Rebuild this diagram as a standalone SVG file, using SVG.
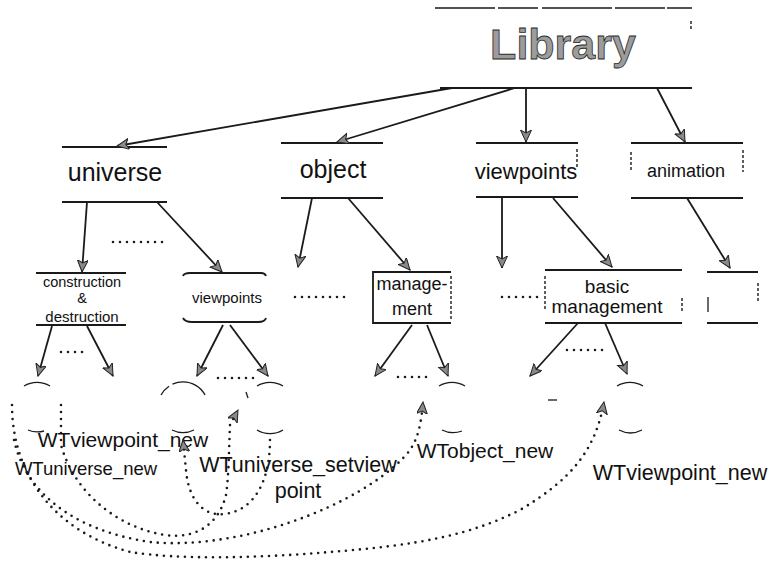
<svg xmlns="http://www.w3.org/2000/svg" width="769" height="563" viewBox="0 0 769 563">
  <style>
    .edge { fill: none; stroke: #1a1a1a; stroke-width: 1.8; }
    .thin { fill: none; stroke: #1a1a1a; stroke-width: 1.3; }
    .dash { fill: none; stroke: #1a1a1a; stroke-width: 1.4; stroke-dasharray: 3 2; }
    .dots { fill: none; stroke: #1a1a1a; stroke-width: 2.6; stroke-linecap: round; stroke-dasharray: 0 7; }
    .lbl { font-family: "Liberation Sans", Arial, sans-serif; fill: #111; text-anchor: middle; }
    .title { fill: #9c9c9c; stroke: #2a2a2a; stroke-width: 0.8; font-weight: bold; }
    .arc { fill: none; stroke: #1a1a1a; stroke-width: 1.3; }
  </style>
  <defs>
    <marker id="head" markerUnits="userSpaceOnUse" markerWidth="15" markerHeight="13" refX="12" refY="5.5" orient="auto">
      <path d="M0,0 L12,5.5 L0,11 L3,5.5 Z" fill="#8a8a8a" stroke="#222" stroke-width="1"/>
    </marker>
  </defs>
  <rect width="769" height="563" fill="#fff"/>

  <!-- root -->
  <g id="library">
    <path class="thin" d="M435,8 L692,8" stroke-dasharray="60 3 40 4 70 3 50 2"/>
    <path class="edge" d="M440,88 L692,88"/>
    <path class="dash" d="M691,21 L691,31"/>
    <text class="lbl title" x="563" y="59" font-size="43">Library</text>
  </g>

  <!-- level 2 -->
  <g id="universe">
    <path class="edge" d="M62,147 L167,147 M62,202 L167,202"/>
    <text class="lbl" x="115" y="181" font-size="25">universe</text>
  </g>
  <g id="object">
    <path class="edge" d="M281,143 L383,143 M281,198 L383,198"/>
    <text class="lbl" x="333" y="178" font-size="25">object</text>
  </g>
  <g id="viewpoints">
    <path class="edge" d="M476,143 L578,143 M476,197 L578,197"/>
    <path class="dash" d="M577,149 L577,168"/>
    <text class="lbl" x="526" y="179" font-size="22">viewpoints</text>
  </g>
  <g id="animation">
    <path class="edge" d="M631,143 L743,143 M631,198 L743,198"/>
    <path class="dash" d="M631,152 L631,170 M743,150 L743,172"/>
    <text class="lbl" x="686" y="177" font-size="18">animation</text>
  </g>

  <!-- level 3 -->
  <g id="construction">
    <path class="edge" d="M36,273 L126,273 M36,325 L126,325"/>
    <text class="lbl" x="82" y="287" font-size="14.5">construction</text>
    <text class="lbl" x="82" y="303" font-size="14.5">&amp;</text>
    <text class="lbl" x="82" y="322" font-size="15">destruction</text>
  </g>
  <g id="viewpoints-sub">
    <path class="edge" d="M183,276 Q184,273 190,273 L261,273 Q265,273 266,276"/>
    <path class="edge" d="M183,318 Q185,322 192,322 L258,322 Q265,322 266,318"/>
    <text class="lbl" x="227" y="303" font-size="15">viewpoints</text>
  </g>
  <g id="management">
    <path class="edge" d="M451,272 L373,272 L373,323 L451,323"/>
    <path class="dash" d="M451,276 L451,320"/>
    <text class="lbl" x="412" y="290" font-size="18">manage-</text>
    <text class="lbl" x="412" y="315" font-size="18">ment</text>
  </g>
  <g id="basic-management">
    <path class="edge" d="M545,270 L682,270 M545,323 L682,323"/>
    <path class="dash" d="M545,276 L545,310" stroke-dasharray="2 4"/>
    <path class="dash" d="M682,298 L682,312" stroke-dasharray="2 5"/>
    <text class="lbl" x="607" y="293" font-size="19">basic</text>
    <text class="lbl" x="607" y="313" font-size="19">management</text>
  </g>
  <g id="animation-sub">
    <path class="edge" d="M707,272 L758,272 M707,323 L758,323"/>
    <path class="thin" d="M708,297 L708,312"/>
    <path class="dash" d="M758,283 L758,302" stroke-dasharray="2 6"/>
  </g>

  <!-- leaf circles, partly drawn -->
  <g id="leaf-1">
    <path class="arc" d="M24,386 A25,25 0 0 1 50,386"/>
    <path class="arc" d="M28,430 A25,25 0 0 0 44,431"/>
  </g>
  <g id="leaf-3">
    <path class="arc" d="M161,395 A25,25 0 0 1 205,395" stroke-dasharray="12 4 40"/>
    <path class="arc" d="M172,430 A25,25 0 0 0 194,430"/>
  </g>
  <g id="leaf-4">
    <path class="arc" d="M257,386 A25,25 0 0 1 283,386"/>
    <path class="arc" d="M246,392 L248,398"/>
    <path class="arc" d="M257,430 A25,25 0 0 0 283,430"/>
  </g>
  <g id="leaf-5">
    <path class="arc" d="M439,386 A25,25 0 0 1 465,386"/>
    <path class="arc" d="M442,430 A25,25 0 0 0 462,431"/>
  </g>
  <g id="leaf-6">
    <path class="arc" d="M548,400 L557,400"/>
  </g>
  <g id="leaf-7">
    <path class="arc" d="M617,386 A25,25 0 0 1 643,386"/>
    <path class="arc" d="M619,430 A25,25 0 0 0 642,430"/>
  </g>

  <!-- labels of the calls -->
  <g id="call-labels">
    <text class="lbl" x="123" y="447" font-size="21">WTviewpoint_new</text>
    <text class="lbl" x="86" y="475" font-size="18.5">WTuniverse_new</text>
    <text class="lbl" x="298" y="472" font-size="21.5">WTuniverse_setview</text>
    <text class="lbl" x="298" y="498" font-size="21.5">point</text>
    <text class="lbl" x="485" y="458" font-size="21">WTobject_new</text>
    <text class="lbl" x="680" y="480" font-size="21.5">WTviewpoint_new</text>
  </g>

  <!-- connectors -->
  <g id="connectors">
    <path class="edge" marker-end="url(#head)" d="M452,88 L117,146"/>
    <path class="edge" marker-end="url(#head)" d="M515,88 L337,142"/>
    <path class="edge" marker-end="url(#head)" d="M526,88 L526,142"/>
    <path class="edge" marker-end="url(#head)" d="M657,88 L685,142"/>

    <path class="edge" marker-end="url(#head)" d="M87,202 L82,272"/>
    <path class="edge" marker-end="url(#head)" d="M157,202 L222,272"/>
    <path class="edge" marker-end="url(#head)" d="M312,198 L298,267"/>
    <path class="edge" marker-end="url(#head)" d="M348,198 L410,270"/>
    <path class="edge" marker-end="url(#head)" d="M502,198 L502,268"/>
    <path class="edge" marker-end="url(#head)" d="M553,198 L612,267"/>
    <path class="edge" marker-end="url(#head)" d="M687,198 L730,268"/>

    <path class="edge" marker-end="url(#head)" d="M52,326 L38,376"/>
    <path class="edge" marker-end="url(#head)" d="M87,326 L113,376"/>
    <path class="edge" marker-end="url(#head)" d="M223,325 L197,376"/>
    <path class="edge" marker-end="url(#head)" d="M230,325 L268,376"/>
    <path class="edge" marker-end="url(#head)" d="M412,325 L375,376"/>
    <path class="edge" marker-end="url(#head)" d="M427,325 L448,376"/>
    <path class="edge" marker-end="url(#head)" d="M578,323 L530,376"/>
    <path class="edge" marker-end="url(#head)" d="M605,323 L627,374"/>

    <!-- elided siblings -->
    <path class="dots" d="M113,242 L165,242"/>
    <path class="dots" d="M61,352 L89,352"/>
    <path class="dots" d="M218,378 L256,378"/>
    <path class="dots" d="M295,297 L346,297"/>
    <path class="dots" d="M398,377 L427,377"/>
    <path class="dots" d="M502,297 L544,297"/>
    <path class="dots" d="M567,350 L604,350"/>

    <!-- call links -->
    <path class="dots" marker-end="url(#head)" d="M12,405 C12,470 50,530 130,552 C180,560 260,558 330,552 C420,545 470,535 520,510 C570,480 595,452 604,402"/>
    <path class="dots" marker-end="url(#head)" d="M14,440 C25,490 70,530 150,542 C200,547 260,535 310,515 C360,495 395,470 410,450 C418,438 421,425 423,402"/>
    <path class="dots" marker-end="url(#head)" d="M61,405 L61,445 C75,495 120,528 165,535 C200,540 220,520 226,495 C229,475 229,445 230,425 L238,410"/>
    <path class="dots" marker-end="url(#head)" d="M270,440 C270,480 255,510 225,514 C200,517 188,495 186,470 L183,440"/>
  </g>
</svg>
